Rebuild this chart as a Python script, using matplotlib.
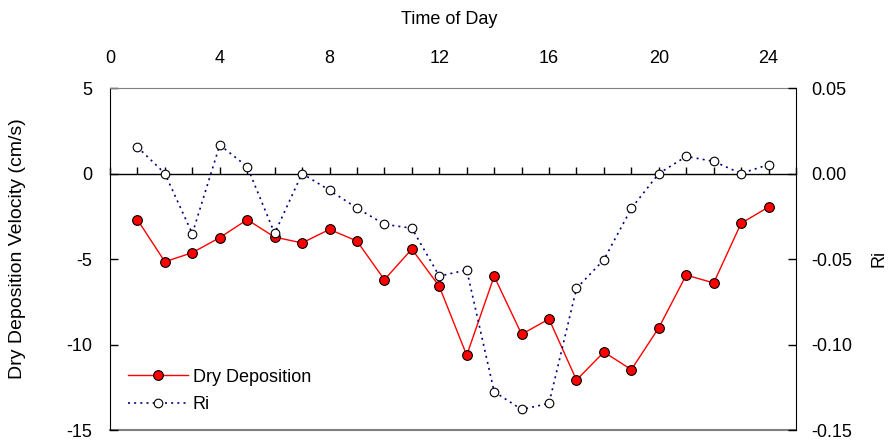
import numpy as np
import matplotlib
matplotlib.use("Agg")
import matplotlib.pyplot as plt
from matplotlib.ticker import MultipleLocator, FormatStrFormatter

plt.rcParams['font.family'] = ['Liberation Sans', 'DejaVu Sans']
plt.rcParams['font.size'] = 13
plt.rcParams['axes.unicode_minus'] = False

# hourly values
hours = list(range(1, 25))
dry_dep = [-2.70, -5.16, -4.63, -3.75, -2.70, -3.72, -4.06, -3.27, -3.95, -6.21,
           -4.42, -6.60, -10.63, -6.01, -9.40, -8.51, -12.08, -10.44, -11.47, -9.02,
           -5.94, -6.40, -2.91, -1.96]
ri = [0.0155, 0.0, -0.0352, 0.0167, 0.0040, -0.0350, 0.0, -0.0098, -0.0202, -0.0297,
      -0.0320, -0.0600, -0.0564, -0.1276, -0.1380, -0.1344, -0.0672, -0.0504, -0.0204, 0.0,
      0.0100, 0.0071, 0.0, 0.0052]
top_ticks = [0, 4, 8, 12, 16, 20, 24]

fig = plt.figure(figsize=(8.91, 4.40), dpi=100)
ax = fig.add_axes([110/891, 10/440, 686/891, 342/440])

ax.plot(hours, dry_dep, c='#ff0000', lw=1.0, marker='o', ms=7,
        mfc='#ff0000', mec='black', mew=0.8, label='Dry Deposition', zorder=3)

ax.set_xlim(0, 25)
ax.set_ylim(-15, 5)
ax.yaxis.set_major_locator(MultipleLocator(5))
ax.xaxis.set_major_locator(MultipleLocator(1))

# category axis sits on the zero line, labels go on top
ax.spines['bottom'].set_position(('data', 0))
ax.spines['bottom'].set_linewidth(1.0)
ax.spines['top'].set_color('#808080')
ax.spines['right'].set_visible(False)
ax.tick_params(axis='x', direction='in', length=5, width=1, labelbottom=False)
ax.tick_params(axis='y', direction='in', length=6, width=1, pad=13)
ax.axhline(-15, color='#808080', lw=1.5, clip_on=False, zorder=1)

secax = ax.secondary_xaxis('top')
secax.set_xticks(top_ticks)
secax.tick_params(length=0, pad=15)
secax.spines['top'].set_visible(False)

ax2 = ax.twinx()
ax2.plot(hours, ri, c='#000080', lw=1.2, ls=(0, (1.2, 2.5)), marker='o', ms=6.2,
         mfc='white', mec='black', mew=0.8, label='Ri', zorder=3)
ax2.set_ylim(-0.15, 0.05)
ax2.yaxis.set_major_locator(MultipleLocator(0.05))
ax2.yaxis.set_major_formatter(FormatStrFormatter('%.2f'))
for s in ['top', 'bottom', 'left']:
    ax2.spines[s].set_visible(False)
ax2.tick_params(axis='y', direction='in', length=6, width=1, pad=11)

fig.text(449/891, 1 - 20/440, 'Time of Day', ha='center', va='center', fontsize=13)
fig.text(18/891, 1 - 249/440, 'Dry Deposition Velocity (cm/s)', ha='center',
         va='center', rotation=90, fontsize=14)
fig.text(879/891, 1 - 258/440, 'Ri', ha='center', va='center', rotation=90, fontsize=13)

h1, l1 = ax.get_legend_handles_labels()
h2, l2 = ax2.get_legend_handles_labels()
ax2.legend(h1 + h2, l1 + l2, loc='center left', bbox_to_anchor=(128/891, 1 - 391/440),
           bbox_transform=fig.transFigure, frameon=False, borderpad=0, borderaxespad=0,
           handlelength=3.3, handletextpad=0.3, labelspacing=0.6, fontsize=13)

fig.savefig('out.png', dpi=100)
